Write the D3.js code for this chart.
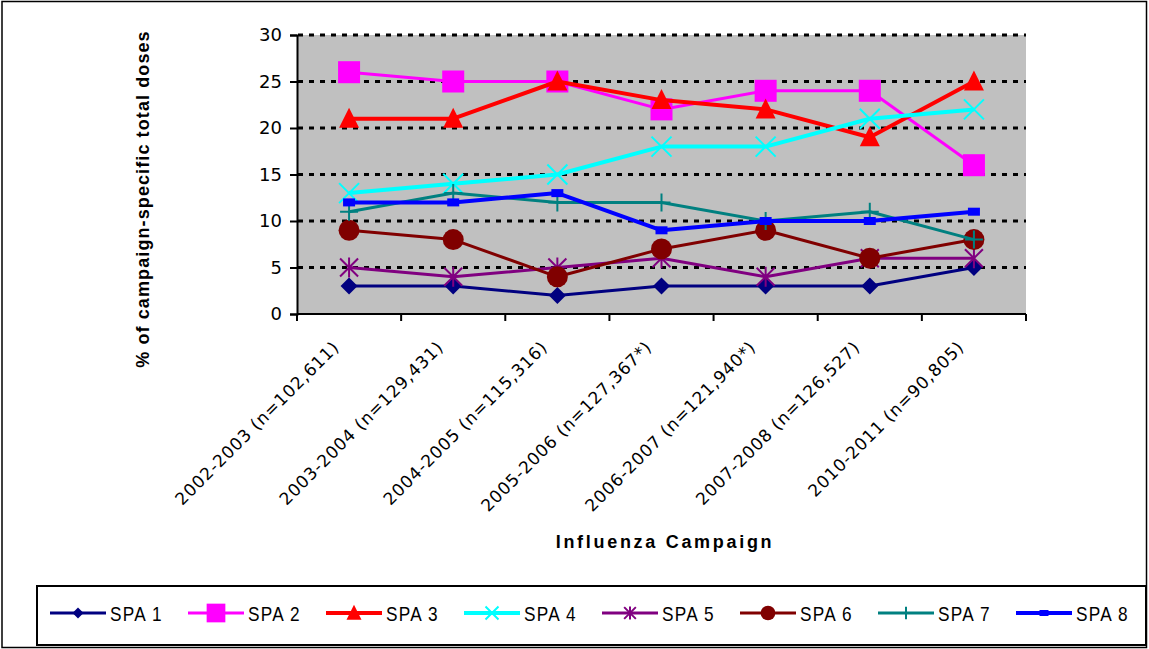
<!DOCTYPE html>
<html>
<head>
<meta charset="utf-8">
<script src="https://cdn.jsdelivr.net/npm/d3@7"></script>
<style>
  html, body { margin: 0; padding: 0; background: #fff; }
  svg { display: block; }
</style>
</head>
<body>
<svg id="chart" width="1149" height="649"></svg>
<script>
const categories = [
  "2002-2003 (n=102,611)",
  "2003-2004 (n=129,431)",
  "2004-2005 (n=115,316)",
  "2005-2006 (n=127,367*)",
  "2006-2007 (n=121,940*)",
  "2007-2008 (n=126,527)",
  "2010-2011 (n=90,805)"
];
const seriesNames = ["SPA 1", "SPA 2", "SPA 3", "SPA 4", "SPA 5", "SPA 6", "SPA 7", "SPA 8"];
const spa1 = [3, 3, 2, 3, 3, 3, 5];
const spa2 = [26, 25, 25, 22, 24, 24, 16];
const spa3 = [21, 21, 25, 23, 22, 19, 25];
const spa4 = [13, 14, 15, 18, 18, 21, 22];
const spa5 = [5, 4, 5, 6, 4, 6, 6];
const spa6 = [9, 8, 4, 7, 9, 6, 8];
const spa7 = [11, 13, 12, 12, 10, 11, 8];
const spa8 = [12, 12, 13, 9, 10, 10, 11];
const yTicks = [0, 5, 10, 15, 20, 25, 30];

const seriesValues = [spa1, spa2, spa3, spa4, spa5, spa6, spa7, spa8];
const colors = ["#000080", "#FF00FF", "#FF0000", "#00FFFF", "#800080", "#800000", "#008080", "#0000FF"];
const markers = ["diamond", "square", "triangle", "x", "asterisk", "circle", "plus", "smallsquare"];
const lineWidths = [3, 3, 4, 4, 3, 3, 3, 4];

const svg = d3.select("#chart");
const plot = { left: 297, right: 1026, top: 35, bottom: 314 };

// outer border
svg.append("rect").attr("x", 2).attr("y", 1.5).attr("width", 1144.5).attr("height", 646)
  .attr("fill", "none").attr("stroke", "#000").attr("stroke-width", 1.5);

const x = d3.scaleBand().domain(categories).range([plot.left, plot.right]).padding(0);
const y = d3.scaleLinear().domain([0, 30]).range([plot.bottom, plot.top]);

// plot background
svg.append("rect").attr("x", plot.left).attr("y", plot.top)
  .attr("width", plot.right - plot.left).attr("height", plot.bottom - plot.top)
  .attr("fill", "#C0C0C0");

// gridlines
svg.append("g").selectAll("line").data(yTicks.filter(d => d > 0)).join("line")
  .attr("x1", plot.left + 1).attr("x2", plot.right)
  .attr("y1", d => y(d)).attr("y2", d => y(d))
  .attr("stroke", "#000").attr("stroke-width", 3).attr("stroke-dasharray", "5,6");

// y axis
const yAxis = d3.axisLeft(y).tickValues(yTicks).tickSize(7).tickPadding(8);
const gy = svg.append("g").attr("transform", `translate(${plot.left},0)`).call(yAxis);
gy.select(".domain").attr("stroke", "#000").attr("stroke-width", 2);
gy.selectAll(".tick line").attr("stroke", "#000").attr("stroke-width", 2);
gy.selectAll(".tick text").attr("font-family", "DejaVu Sans, Verdana, sans-serif")
  .attr("font-size", 18).attr("fill", "#000");

// x axis line & ticks at category boundaries
const boundaries = categories.map(c => x(c)).concat([plot.right]);
svg.append("line").attr("x1", plot.left).attr("x2", plot.right)
  .attr("y1", plot.bottom).attr("y2", plot.bottom).attr("stroke", "#000").attr("stroke-width", 2);
svg.append("g").selectAll("line").data(boundaries).join("line")
  .attr("x1", d => d).attr("x2", d => d).attr("y1", plot.bottom).attr("y2", plot.bottom + 7)
  .attr("stroke", "#000").attr("stroke-width", 2);

// x tick labels
const cx = c => x(c) + x.bandwidth() / 2;
svg.append("g").selectAll("text").data(categories).join("text")
  .attr("transform", d => `translate(${cx(d) - 13},${plot.bottom + 30}) rotate(-45)`)
  .attr("text-anchor", "end").attr("dy", "0.35em")
  .attr("font-family", "DejaVu Sans, Verdana, sans-serif").attr("font-size", 17)
  .attr("letter-spacing", 0.8)
  .text(d => d);

// axis titles
svg.append("text").attr("transform", "translate(149,199) rotate(-90)")
  .attr("text-anchor", "middle").attr("font-family", "Liberation Sans, Arial, sans-serif")
  .attr("font-weight", "bold").attr("font-size", 18).attr("letter-spacing", 1.1)
  .text("% of campaign-specific total doses");
svg.append("text").attr("x", 665).attr("y", 548)
  .attr("text-anchor", "middle").attr("font-family", "Liberation Sans, Arial, sans-serif")
  .attr("font-weight", "bold").attr("font-size", 18).attr("letter-spacing", 2.7)
  .text("Influenza Campaign");

// marker drawing
function drawMarker(g, type, color, px, py, s) {
  switch (type) {
    case "diamond":
      g.append("path").attr("d", `M${px},${py - 8.5 * s}L${px + 8.5 * s},${py}L${px},${py + 8.5 * s}L${px - 8.5 * s},${py}Z`)
        .attr("fill", color);
      break;
    case "square":
      g.append("rect").attr("x", px - 11 * s).attr("y", py - 11 * s).attr("width", 22 * s).attr("height", 22 * s)
        .attr("fill", color);
      break;
    case "triangle":
      g.append("path").attr("d", `M${px},${py - 11 * s}L${px + 10 * s},${py + 9 * s}L${px - 10 * s},${py + 9 * s}Z`)
        .attr("fill", color);
      break;
    case "x":
      g.append("path").attr("d", `M${px - 10 * s},${py - 10 * s}L${px + 10 * s},${py + 10 * s}M${px - 10 * s},${py + 10 * s}L${px + 10 * s},${py - 10 * s}`)
        .attr("stroke", color).attr("stroke-width", 2).attr("fill", "none");
      break;
    case "asterisk":
      g.append("path").attr("d", `M${px - 9 * s},${py - 9 * s}L${px + 9 * s},${py + 9 * s}M${px - 9 * s},${py + 9 * s}L${px + 9 * s},${py - 9 * s}M${px},${py - 10 * s}L${px},${py + 10 * s}`)
        .attr("stroke", color).attr("stroke-width", 2).attr("fill", "none");
      break;
    case "circle":
      g.append("circle").attr("cx", px).attr("cy", py).attr("r", 10.5 * s).attr("fill", color);
      break;
    case "plus":
      g.append("path").attr("d", `M${px},${py - 9 * s}L${px},${py + 9 * s}M${px - 9 * s},${py}L${px + 9 * s},${py}`)
        .attr("stroke", color).attr("stroke-width", 2).attr("fill", "none");
      break;
    case "smallsquare":
      g.append("rect").attr("x", px - 6 * s).attr("y", py - 4 * s).attr("width", 12 * s).attr("height", 8 * s)
        .attr("fill", color);
      break;
  }
}

// series
const line = d3.line().x((d, i) => cx(categories[i])).y(d => y(d));
seriesValues.forEach((vals, si) => {
  const g = svg.append("g");
  g.append("path").datum(vals).attr("d", line).attr("fill", "none")
    .attr("stroke", colors[si]).attr("stroke-width", lineWidths[si]).attr("stroke-linejoin", "round");
  vals.forEach((v, i) => drawMarker(g, markers[si], colors[si], cx(categories[i]), y(v), 1));
});

// legend
const lg = svg.append("g");
lg.append("rect").attr("x", 37).attr("y", 586).attr("width", 1109).attr("height", 59)
  .attr("fill", "#fff").attr("stroke", "#000").attr("stroke-width", 2);
const legendX = d3.scalePoint().domain(seriesNames).range([50, 50 + 138 * 7]);
const legendScale = [0.65, 0.85, 0.75, 0.65, 0.65, 0.7, 0.7, 0.75];
seriesNames.forEach((name, si) => {
  const x0 = legendX(name), ly = 613;
  const g = lg.append("g");
  g.append("line").attr("x1", x0).attr("x2", x0 + 56).attr("y1", ly).attr("y2", ly)
    .attr("stroke", colors[si]).attr("stroke-width", lineWidths[si]);
  drawMarker(g, markers[si], colors[si], x0 + 28, ly, legendScale[si]);
  g.append("text").attr("transform", `translate(${x0 + 60},${ly}) scale(0.82,1)`).attr("dy", "0.36em")
    .attr("font-family", "Liberation Sans, Arial, sans-serif")
    .attr("font-size", 21).attr("letter-spacing", 1.5).text(name);
});
</script>
</body>
</html>
